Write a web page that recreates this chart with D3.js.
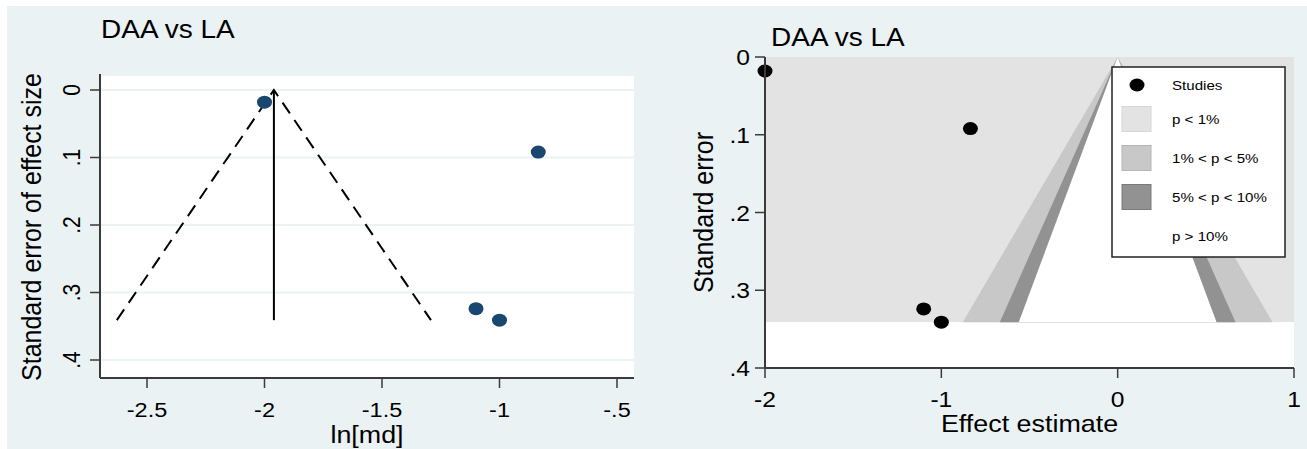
<!DOCTYPE html>
<html>
<head>
<meta charset="utf-8">
<script src="https://cdn.jsdelivr.net/npm/d3@7"></script>
<style>
  html, body { margin: 0; padding: 0; background: #ffffff; }
  svg { display: block; font-family: "Liberation Sans", Arial, sans-serif; }
</style>
</head>
<body>
<svg id="chart" width="1307" height="449"></svg>
<script>
// Study-level estimates (log mean difference) and their standard errors
const studyEffect = [-2.0, -0.835, -1.1, -1.0];
const studySE     = [0.018, 0.092, 0.324, 0.341];
// Pooled (fixed-effect) estimate for the funnel
const pooledEffect = [-1.96];

const leftXTicks  = [-2.5, -2, -1.5, -1, -0.5];
const leftXLabels = ["-2.5", "-2", "-1.5", "-1", "-.5"];
const seTicks     = [0, 0.1, 0.2, 0.3, 0.4];
const seLabels    = ["0", ".1", ".2", ".3", ".4"];
const rightXTicks = [-2, -1, 0, 1];
const rightXLabels = ["-2", "-1", "0", "1"];

// Contour bands: two-sided z cut-offs for 1%, 5%, 10%
const bandNames  = ["p < 1%", "1% < p < 5%", "5% < p < 10%", "p > 10%"];
const bandZ      = [2.576, 1.96, 1.645];
const bandFill   = ["#e3e3e3", "#c8c8c8", "#929292", "#ffffff"];
const bandStroke = ["#d6d6d6", "#b5b5b5", "#7a7a7a", "none"];

const svg = d3.select("#chart");
const SX = 1.12; // horizontal text stretch
const BG = "#eaf2f3";
const AX = "#3a3a3a";

function label(g, x, y, text, size, anchor, rotate) {
  const t = g.append("g")
    .attr("transform", `translate(${x},${y}) scale(${SX},1)` + (rotate ? ` rotate(${rotate})` : ""));
  t.append("text")
    .attr("text-anchor", anchor || "start")
    .attr("font-size", size)
    .attr("fill", "#000")
    .text(text);
  return t;
}

// Panel background
svg.append("rect").attr("x", 7).attr("y", 6).attr("width", 1300).attr("height", 443).attr("fill", BG);

const seMax = d3.max(studySE);

// ---------------- Left: funnel plot ----------------
{
  const g = svg.append("g");
  const x = d3.scaleLinear().domain([-2.5, -0.5]).range([147, 617]);
  const y = d3.scaleLinear().domain([0, 0.4]).range([90, 360]);
  const plot = { x0: 100, x1: 634, y0: 76, y1: 378 };

  g.append("rect").attr("x", plot.x0).attr("y", plot.y0)
    .attr("width", plot.x1 - plot.x0).attr("height", plot.y1 - plot.y0).attr("fill", "#ffffff");

  // horizontal grid
  g.selectAll(".grid").data(seTicks).join("line")
    .attr("x1", plot.x0).attr("x2", plot.x1)
    .attr("y1", d => y(d)).attr("y2", d => y(d))
    .attr("stroke", BG).attr("stroke-width", 2);

  // pseudo 95% confidence limits
  const pe = pooledEffect[0];
  const line = d3.line().x(d => x(d[0])).y(d => y(d[1]));
  g.append("path")
    .attr("d", line([[pe - 1.96 * seMax, seMax], [pe, 0], [pe + 1.96 * seMax, seMax]]))
    .attr("fill", "none").attr("stroke", "#000").attr("stroke-width", 2)
    .attr("stroke-dasharray", "13,8");
  g.append("path")
    .attr("d", line([[pe, 0], [pe, seMax]]))
    .attr("fill", "none").attr("stroke", "#000").attr("stroke-width", 2);

  // studies
  g.selectAll(".pt").data(studyEffect).join("ellipse")
    .attr("cx", d => x(d)).attr("cy", (d, i) => y(studySE[i]))
    .attr("rx", 7.5).attr("ry", 6.5).attr("fill", "#1a476f");

  // axes
  g.append("line").attr("x1", plot.x0).attr("x2", plot.x0).attr("y1", 74).attr("y2", plot.y1)
    .attr("stroke", AX).attr("stroke-width", 2);
  g.append("line").attr("x1", plot.x0).attr("x2", plot.x1).attr("y1", plot.y1).attr("y2", plot.y1)
    .attr("stroke", AX).attr("stroke-width", 2);
  g.selectAll(".yt").data(seTicks).join("line")
    .attr("x1", plot.x0 - 10).attr("x2", plot.x0).attr("y1", d => y(d)).attr("y2", d => y(d))
    .attr("stroke", AX).attr("stroke-width", 1.5);
  g.selectAll(".xt").data(leftXTicks).join("line")
    .attr("x1", d => x(d)).attr("x2", d => x(d)).attr("y1", plot.y1).attr("y2", plot.y1 + 10)
    .attr("stroke", AX).attr("stroke-width", 1.5);

  seTicks.forEach((d, i) => label(g, 80, y(d), seLabels[i], 21, "middle", -90));
  leftXTicks.forEach((d, i) => label(g, x(d), 417, leftXLabels[i], 21, "middle"));

  label(g, (plot.x0 + plot.x1) / 2, 443, "ln[md]", 24, "middle");
  label(g, 41, (plot.y0 + plot.y1) / 2, "Standard error of effect size", 25, "middle", -90);
  label(g, 101, 38, "DAA vs LA", 25, "start");
}

// ---------------- Right: contour-enhanced funnel plot ----------------
{
  const g = svg.append("g");
  const x = d3.scaleLinear().domain([-2, 1]).range([765, 1294]);
  const y = d3.scaleLinear().domain([0, 0.4]).range([57, 368]);

  g.append("rect").attr("x", x(-2)).attr("y", y(0))
    .attr("width", x(1) - x(-2)).attr("height", y(0.4) - y(0)).attr("fill", "#ffffff");

  // p < 1% region
  g.append("rect").attr("x", x(-2)).attr("y", y(0))
    .attr("width", x(1) - x(-2)).attr("height", y(seMax) - y(0)).attr("fill", bandFill[0]);

  const tri = z => [[0, 0], [-z * seMax, seMax], [z * seMax, seMax]];
  const poly = d3.line().x(d => x(d[0])).y(d => y(d[1]));
  bandZ.forEach((z, i) => {
    g.append("path").attr("d", poly(tri(z)) + "Z").attr("fill", bandFill[i + 1]);
  });

  // studies
  g.selectAll(".pt").data(studyEffect).join("ellipse")
    .attr("cx", d => x(d)).attr("cy", (d, i) => y(studySE[i]))
    .attr("rx", 7.5).attr("ry", 6.5).attr("fill", "#000");

  // axes
  g.append("line").attr("x1", x(-2)).attr("x2", x(-2)).attr("y1", y(0)).attr("y2", y(0.4))
    .attr("stroke", AX).attr("stroke-width", 2);
  g.append("line").attr("x1", x(-2)).attr("x2", x(1)).attr("y1", y(0.4)).attr("y2", y(0.4))
    .attr("stroke", AX).attr("stroke-width", 2);
  g.selectAll(".yt").data(seTicks).join("line")
    .attr("x1", x(-2) - 10).attr("x2", x(-2)).attr("y1", d => y(d)).attr("y2", d => y(d))
    .attr("stroke", AX).attr("stroke-width", 1.5);
  g.selectAll(".xt").data(rightXTicks).join("line")
    .attr("x1", d => x(d)).attr("x2", d => x(d)).attr("y1", y(0.4)).attr("y2", y(0.4) + 10)
    .attr("stroke", AX).attr("stroke-width", 1.5);

  seTicks.forEach((d, i) => label(g, 750, y(d) + 8, seLabels[i], 22, "end"));
  rightXTicks.forEach((d, i) => label(g, x(d), 407, rightXLabels[i], 22, "middle"));

  label(g, (x(-2) + x(1)) / 2, 432, "Effect estimate", 24, "middle");
  label(g, 713, (y(0) + y(0.4)) / 2, "Standard error", 25, "middle", -90);
  label(g, 771, 46, "DAA vs LA", 25, "start");

  // legend
  const lg = g.append("g");
  lg.append("rect").attr("x", 1112).attr("y", 67).attr("width", 173).attr("height", 190)
    .attr("fill", "#ffffff").attr("stroke", "#222").attr("stroke-width", 1.5);
  lg.append("ellipse").attr("cx", 1137).attr("cy", 85).attr("rx", 7.5).attr("ry", 6.5).attr("fill", "#000");
  label(lg, 1172, 90, "Studies", 13.5, "start");
  const rowY = [119, 158, 197, 236];
  bandNames.forEach((name, i) => {
    if (i < 3) {
      lg.append("rect").attr("x", 1122).attr("y", rowY[i] - 12.5).attr("width", 29).attr("height", 25)
        .attr("fill", bandFill[i]).attr("stroke", bandStroke[i]).attr("stroke-width", 1);
    }
    label(lg, 1172, rowY[i] + 5, name, 13.5, "start");
  });
}
</script>
</body>
</html>
